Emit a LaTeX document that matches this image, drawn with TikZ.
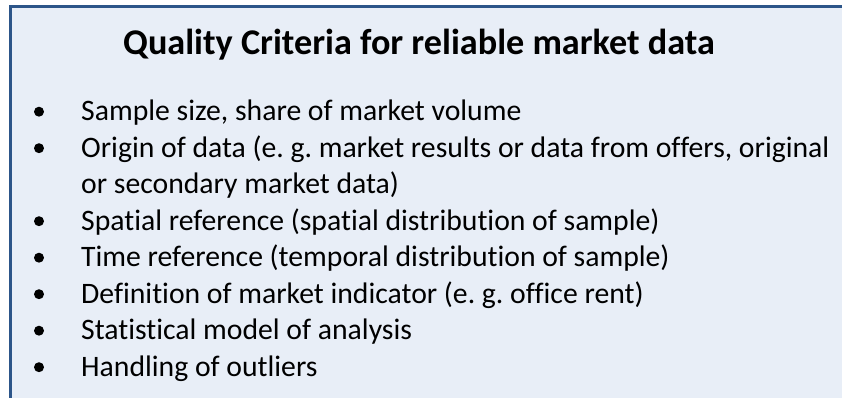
\documentclass[tikz,border=0pt]{standalone}
\usepackage{fontspec}
\setmainfont[Ligatures=NoCommon]{Carlito}
\definecolor{boxfill}{HTML}{E8EEF7}
\definecolor{boxline}{HTML}{2C5589}
\begin{document}
\frenchspacing
\begin{tikzpicture}[x=1pt,y=1pt,
  item/.style={anchor=base west,inner sep=0pt,font=\fontsize{29.7}{36.5}\selectfont,text=black},
  title/.style={anchor=base,inner sep=0pt,font=\fontsize{36.2}{42}\selectfont\bfseries,text=black},
  dot/.style={fill=black}]
\useasboundingbox (0,0) rectangle (842,398);
\clip (0,0) rectangle (842,398);
\fill[white] (0,0) rectangle (842,398);
\fill[boxfill] (10.5,-20) rectangle (860,391.5);
\draw[boxline,line width=3.5pt] (10.5,-20) -- (10.5,391.5) -- (860,391.5);
\node[title] (t) at (419,343.7) {Quality Criteria for reliable market data};
\def\bx{39}
\node[item] (a1) at (81,277.3) {Sample size, share of market volume};
\node[item] (a2) at (81,240.8) {Origin of data (e. g. market results or data from offers, original};
\node[item] (a2b) at (81,204.3) {or secondary market data)};
\node[item] (a3) at (81,167.8) {Spatial reference (spatial distribution of sample)};
\node[item] (a4) at (81,131.3) {Time reference (temporal distribution of sample)};
\node[item] (a5) at (81,94.8) {Definition of market indicator (e. g. office rent)};
\node[item] (a6) at (81,58.3) {Statistical model of analysis};
\node[item] (a7) at (81,21.8) {Handling of outliers};
\foreach \n in {a1,a2,a3,a4,a5,a6,a7}{
  \fill[dot] ([yshift=9pt]\n.base west -| \bx,0) circle (5pt);
}
\end{tikzpicture}
\end{document}
